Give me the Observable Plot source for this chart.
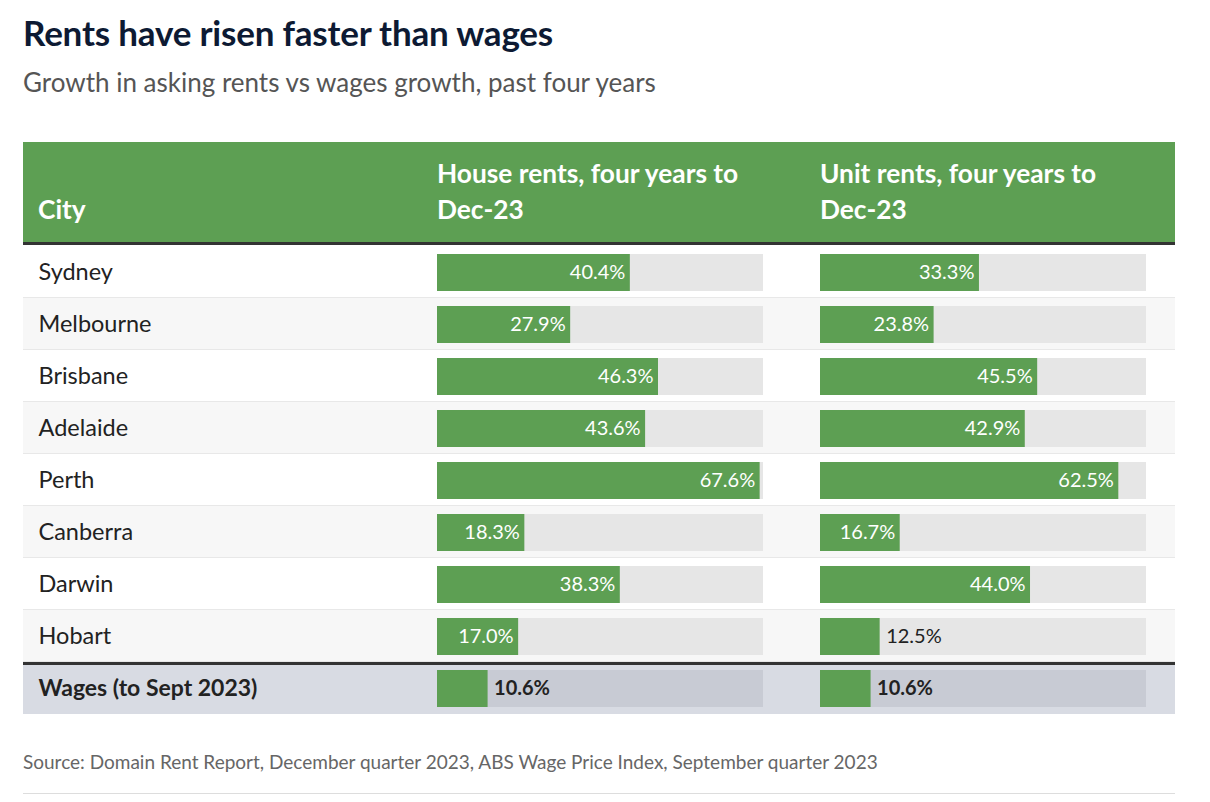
<!DOCTYPE html>
<html>
<head>
<meta charset="utf-8">
<script src="https://cdn.jsdelivr.net/npm/d3@7"></script>
<script src="https://cdn.jsdelivr.net/npm/@observablehq/plot@0.6"></script>
<style>
  body { margin: 0; background: #fff; font-family: Lato, "Open Sans", sans-serif; }
  #wrap { position: relative; padding: 0 0 0 23px; width: 1152px; }
  h1 { margin: 0; padding-top: 12px; font-size: 35px; line-height: 40px; font-weight: 700; color: #0d1a33; letter-spacing: -0.2px; }
  .sub { margin: 14px 0 0 0; font-size: 26px; line-height: 32px; color: #555; }
  .head { margin-top: 44px; display: flex; height: 100px; background: #5d9f53; border-bottom: 3px solid #333; color: #fff; font-weight: 700; font-size: 26.3px; line-height: 36px; }
  .head div { box-sizing: border-box; padding-bottom: 15px; display: flex; align-items: flex-end; }
  .body { display: flex; }
  .body svg { display: block; }
  .src { margin-top: 35px; font-size: 19px; color: #666; }
  .rule { margin-top: 20px; border-top: 1px solid #ddd; width: 1152px; }
</style>
</head>
<body>
<div id="wrap">
  <h1>Rents have risen faster than wages</h1>
  <div class="sub">Growth in asking rents vs wages growth, past four years</div>
  <div class="head">
    <div style="width:414px;padding-left:15px">City</div>
    <div style="width:383px">House rents, four years to<br>Dec-23</div>
    <div style="width:355px">Unit rents, four years to<br>Dec-23</div>
  </div>
  <div class="body" id="body"></div>
  <div class="src">Source: Domain Rent Report, December quarter 2023, ABS Wage Price Index, September quarter 2023</div>
  <div class="rule"></div>
</div>
<script>
const cities = ["Sydney", "Melbourne", "Brisbane", "Adelaide", "Perth", "Canberra", "Darwin", "Hobart"];
const houseRents = [40.4, 27.9, 46.3, 43.6, 67.6, 18.3, 38.3, 17.0];
const unitRents = [33.3, 23.8, 45.5, 42.9, 62.5, 16.7, 44.0, 12.5];
const wagesLabel = "Wages (to Sept 2023)";
const wagesGrowth = 10.6;

const TRACK_MAX = 68.3;      // value at the end of the grey track
const TRACK_PX = 326;        // track length in px
const ROW_H = 52.2;
const rows = [...cities, wagesLabel];
const H = rows.length * ROW_H;

const GREEN = "#5d9f53";
const TXT = "#222";

function rowData(values) {
  return rows.map((r, i) => ({
    row: r,
    value: i < cities.length ? values[i] : wagesGrowth,
    wages: i >= cities.length,
    alt: i % 2 === 1
  }));
}

function backgrounds(data, extraRight) {
  const city = data.filter(d => !d.wages);
  const wag = data.filter(d => d.wages);
  return [
    Plot.rect(city, {y: "row", fill: "#e8e8e8", insetRight: -extraRight}),
    Plot.rect(city, {y: "row", fill: d => d.alt ? "#f7f7f7" : "#ffffff", insetBottom: 1, insetRight: -extraRight}),
    Plot.rect(wag, {y: "row", fill: "#333333", insetRight: -extraRight}),
    Plot.rect(wag, {y: "row", fill: "#d8dbe3", insetTop: 3, insetRight: -extraRight})
  ];
}

function cityColumn() {
  const data = rowData(houseRents);
  return Plot.plot({
    width: 414, height: H,
    margin: 0,
    x: {axis: null},
    y: {domain: rows, axis: null, padding: 0},
    style: {fontFamily: "Lato, 'Open Sans', sans-serif"},
    marks: [
      ...backgrounds(data, 0),
      Plot.text(data.filter(d => !d.wages), {y: "row", text: "row", frameAnchor: "left", dx: 15, fontSize: 23.5, fill: TXT}),
      Plot.text(data.filter(d => d.wages), {y: "row", text: "row", frameAnchor: "left", dx: 15, fontSize: 23, fontWeight: 700, fill: TXT})
    ]
  });
}

function barColumn(values, width) {
  const data = rowData(values);
  const extra = width - TRACK_PX;
  const inside = d => !d.wages && d.value >= 15;
  const fmt = d => d.value.toFixed(1) + "%";
  return Plot.plot({
    width: width, height: H,
    marginLeft: 0, marginTop: 0, marginBottom: 0, marginRight: extra,
    x: {domain: [0, TRACK_MAX], axis: null},
    y: {domain: rows, axis: null, padding: 0},
    style: {fontFamily: "Lato, 'Open Sans', sans-serif"},
    marks: [
      ...backgrounds(data, extra),
      Plot.barX(data, {x1: 0, x2: () => TRACK_MAX, y: "row", fill: d => d.wages ? "#c8cbd4" : "#e6e6e6", insetTop: 8, insetBottom: 7}),
      Plot.barX(data, {x1: 0, x2: "value", y: "row", fill: GREEN, insetTop: 8, insetBottom: 7}),
      Plot.text(data.filter(inside), {x: "value", y: "row", text: fmt, textAnchor: "end", dx: -5, fill: "white", fontSize: 20}),
      Plot.text(data.filter(d => !d.wages && !inside(d)), {x: "value", y: "row", text: fmt, textAnchor: "start", dx: 6, fill: TXT, fontSize: 20}),
      Plot.text(data.filter(d => d.wages), {x: "value", y: "row", text: fmt, textAnchor: "start", dx: 6, fill: TXT, fontSize: 20, fontWeight: 700})
    ]
  });
}

const body = document.getElementById("body");
body.append(cityColumn(), barColumn(houseRents, 383), barColumn(unitRents, 355));
</script>
</body>
</html>
